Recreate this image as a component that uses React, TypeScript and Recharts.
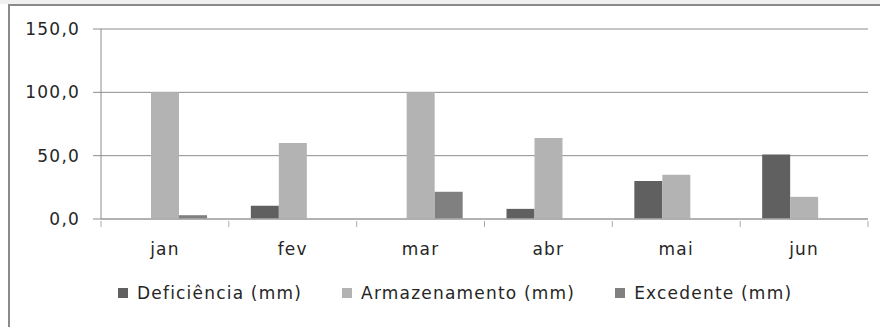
import React from 'react';
import { BarChart, Bar, XAxis, YAxis, CartesianGrid, Legend } from 'recharts';

// Monthly water balance (mm)
const months = ['jan', 'fev', 'mar', 'abr', 'mai', 'jun'];
const deficiencia = [0, 10.5, 0, 8, 30, 51];
const armazenamento = [100, 60, 100, 64, 35, 17.5];
const excedente = [3, 0, 21.5, 0, 0, 0];
const yTicks = [0, 50, 100, 150];

const series = [
  { key: 'deficiencia', name: 'Deficiência (mm)', color: '#606060' },
  { key: 'armazenamento', name: 'Armazenamento (mm)', color: '#b3b3b3' },
  { key: 'excedente', name: 'Excedente (mm)', color: '#808080' },
];

const data = months.map((m, i) => ({
  month: m,
  deficiencia: deficiencia[i],
  armazenamento: armazenamento[i],
  excedente: excedente[i],
}));

const FONT = 'DejaVu Sans';
const textStyle = { fill: '#262626', fontSize: 17, fontFamily: FONT, letterSpacing: 1.2 };
const AXIS_GREY = '#ababab';

const fmt = (v: number) => v.toFixed(1).replace('.', ',');

// Month label centred in its band, with tick marks on the band edges
const MonthTick = (props: any) => {
  const { x, y, payload, index, visibleTicksCount } = props;
  const half = payload.offset || 0;
  const isLast = index === visibleTicksCount - 1;
  return (
    <g>
      <line x1={x - half} x2={x - half} y1={y} y2={y + 6} stroke={AXIS_GREY} />
      {isLast && <line x1={x + half} x2={x + half} y1={y} y2={y + 6} stroke={AXIS_GREY} />}
      <text x={x} y={y + 22} dy="0.71em" textAnchor="middle" {...textStyle}>
        {payload.value}
      </text>
    </g>
  );
};

const LegendContent = () => (
  <div style={{ display: 'flex', alignItems: 'center', fontFamily: FONT, fontSize: 17, letterSpacing: 1.2, color: '#262626', whiteSpace: 'nowrap' }}>
    {series.map((s) => (
      <div key={s.key} style={{ display: 'flex', alignItems: 'center', marginRight: 40 }}>
        <span style={{ display: 'inline-block', width: 10, height: 10, background: s.color, marginRight: 9 }} />
        <span>{s.name}</span>
      </div>
    ))}
  </div>
);

export default function App() {
  return (
    <div style={{ position: 'absolute', left: 0, top: 0, width: 880, height: 327, background: '#ffffff', overflow: 'hidden' }}>
      <div style={{ position: 'absolute', left: 0, top: 0, width: 880, height: 4, background: '#f0f0f0' }} />
      <div style={{ position: 'absolute', left: 8, top: 4, width: 900, height: 340, borderTop: '2px solid #8a8a8a', borderLeft: '2px solid #8a8a8a', boxSizing: 'border-box' }} />
      <div style={{ position: 'absolute', left: 0, top: 0 }}>
        <BarChart
          width={880}
          height={327}
          data={data}
          margin={{ top: 29, right: 12, left: 0, bottom: 68 }}
          barCategoryGap={22}
          barGap={0}
        >
          <CartesianGrid vertical={false} stroke="#8c8c8c" />
          <XAxis
            dataKey="month"
            height={40}
            axisLine={{ stroke: AXIS_GREY, strokeWidth: 1.5 }}
            tickLine={false}
            tickSize={0}
            tick={<MonthTick />}
            interval={0}
          />
          <YAxis
            width={101}
            domain={[0, 150]}
            ticks={yTicks}
            tickFormatter={fmt}
            axisLine={{ stroke: '#8c8c8c' }}
            tickLine={{ stroke: '#8c8c8c' }}
            tickSize={8}
            tickMargin={13}
            tick={textStyle}
          />
          <Legend
            layout="horizontal"
            verticalAlign="middle"
            align="center"
            wrapperStyle={{ left: 118, top: 283, width: 760 }}
            content={<LegendContent />}
          />
          {series.map((s) => (
            <Bar key={s.key} dataKey={s.key} name={s.name} fill={s.color} isAnimationActive={false} />
          ))}
        </BarChart>
      </div>
    </div>
  );
}
